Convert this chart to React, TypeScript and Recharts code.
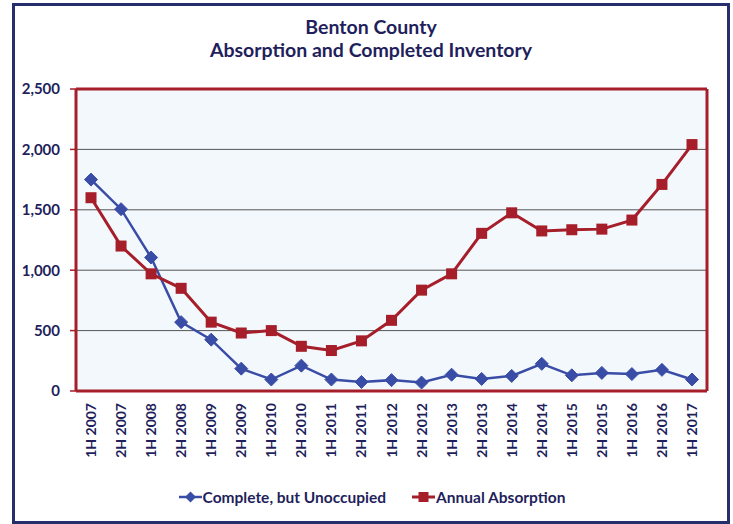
import {
  ComposedChart,
  Line,
  XAxis,
  YAxis,
  CartesianGrid,
  Legend,
} from "recharts";

const periods = [
  "1H 2007", "2H 2007", "1H 2008", "2H 2008", "1H 2009", "2H 2009", "1H 2010",
  "2H 2010", "1H 2011", "2H 2011", "1H 2012", "2H 2012", "1H 2013", "2H 2013",
  "1H 2014", "2H 2014", "1H 2015", "2H 2015", "1H 2016", "2H 2016", "1H 2017",
];

const unoccupied = [
  1750, 1505, 1105, 570, 425, 185, 95, 210, 95, 75, 90, 70, 135, 100, 125, 225,
  130, 150, 140, 175, 95,
];

const absorption = [
  1600, 1200, 970, 850, 570, 480, 500, 370, 335, 415, 585, 835, 970, 1305, 1475,
  1325, 1335, 1340, 1415, 1710, 2040,
];

const yTicks = [0, 500, 1000, 1500, 2000, 2500];

const NAVY = "#1F1F5C";
const BLUE = "#3A4DA6";
const RED = "#A51E2A";
const FONT = "Lato, 'Open Sans', sans-serif";

const data = periods.map((p, i) => ({
  period: p,
  unoccupied: unoccupied[i],
  absorption: absorption[i],
}));

// marcador rombo para la serie azul
const Diamond = (props: any) => {
  const { cx, cy } = props;
  if (cx == null || cy == null) return null;
  const r = 6.5;
  return (
    <polygon
      points={`${cx},${cy - r} ${cx + r},${cy} ${cx},${cy + r} ${cx - r},${cy}`}
      fill={BLUE}
      stroke={BLUE}
    />
  );
};

// marcador cuadrado para la serie roja
const Square = (props: any) => {
  const { cx, cy } = props;
  if (cx == null || cy == null) return null;
  const s = 11;
  return <rect x={cx - s / 2} y={cy - s / 2} width={s} height={s} fill={RED} />;
};

const RotatedTick = (props: any) => {
  const { x, y, payload } = props;
  return (
    <g transform={`translate(${x},${y})`}>
      <text
        transform="rotate(-90)"
        x={-12}
        y={0}
        dy="0.36em"
        textAnchor="end"
        fill={NAVY}
        fontSize={14}
        fontWeight="bold"
        fontFamily={FONT}
      >
        {payload.value}
      </text>
    </g>
  );
};

const LegendContent = () => (
  <div
    style={{
      height: 24,
      width: 718,
      display: "flex",
      justifyContent: "center",
      alignItems: "center",
      fontFamily: FONT,
      fontWeight: "bold",
      fontSize: 15.5,
      color: NAVY,
      paddingLeft: 2,
      boxSizing: "border-box",
    }}
  >
    <svg width={23} height={14}>
      <line x1={0} y1={7} x2={23} y2={7} stroke={BLUE} strokeWidth={2.5} />
      <polygon points="11.5,1.5 17,7 11.5,12.5 6,7" fill={BLUE} />
    </svg>
    <span style={{ marginLeft: 1, marginRight: 26 }}>Complete, but Unoccupied</span>
    <svg width={23} height={14}>
      <line x1={0} y1={7} x2={23} y2={7} stroke={RED} strokeWidth={3} />
      <rect x={6.5} y={2} width={10} height={10} fill={RED} />
    </svg>
    <span style={{ marginLeft: 1 }}>Annual Absorption</span>
  </div>
);

export default function App() {
  return (
    <div
      style={{
        position: "absolute",
        left: 12,
        top: 3,
        width: 718,
        height: 521,
        border: "3px solid #262E6B",
        boxSizing: "border-box",
        background: "#fff",
      }}
    >
      <div style={{ position: "absolute", left: -3, top: -3, width: 718, height: 521 }}>
        <div
          style={{
            position: "absolute",
            top: 12,
            left: 0,
            width: 718,
            textAlign: "center",
            fontFamily: FONT,
            fontWeight: "bold",
            fontSize: 19.5,
            lineHeight: "23px",
            color: NAVY,
          }}
        >
          <div>Benton County</div>
          <div>Absorption and Completed Inventory</div>
        </div>
        <ComposedChart
          width={718}
          height={521}
          data={data}
          margin={{ top: 84, right: 21, left: 0, bottom: 15 }}
        >
          <CartesianGrid vertical={false} stroke="#555" fill="#F3F8FD" />
          <XAxis
            dataKey="period"
            height={94}
            interval={0}
            padding={{ left: 15, right: 15 }}
            tickLine={false}
            tickSize={0}
            tickMargin={0}
            tick={<RotatedTick />}
            axisLine={{ stroke: RED, strokeWidth: 3 }}
          />
          <XAxis
            xAxisId="top"
            dataKey="period"
            orientation="top"
            height={2}
            padding={{ left: 15, right: 15 }}
            tick={false}
            tickLine={false}
            axisLine={{ stroke: RED, strokeWidth: 3 }}
          />
          <YAxis
            width={64}
            domain={[0, 2500]}
            ticks={yTicks}
            interval={0}
            tickSize={6}
            tickMargin={10}
            tickLine={{ stroke: RED, strokeWidth: 1.5 }}
            axisLine={{ stroke: RED, strokeWidth: 3 }}
            tickFormatter={(v: number) => v.toLocaleString("en-US")}
            tick={{ fill: NAVY, fontSize: 15, fontWeight: "bold", fontFamily: FONT }}
          />
          <YAxis
            yAxisId="right"
            orientation="right"
            width={2}
            domain={[0, 1]}
            tick={false}
            tickLine={false}
            axisLine={{ stroke: RED, strokeWidth: 3 }}
          />
          <Legend verticalAlign="bottom" content={<LegendContent />} />
          <Line
            dataKey="unoccupied"
            name="Complete, but Unoccupied"
            stroke={BLUE}
            strokeWidth={2.5}
            dot={<Diamond />}
            activeDot={false}
            isAnimationActive={false}
          />
          <Line
            dataKey="absorption"
            name="Annual Absorption"
            stroke={RED}
            strokeWidth={3}
            dot={<Square />}
            activeDot={false}
            isAnimationActive={false}
          />
        </ComposedChart>
      </div>
    </div>
  );
}
